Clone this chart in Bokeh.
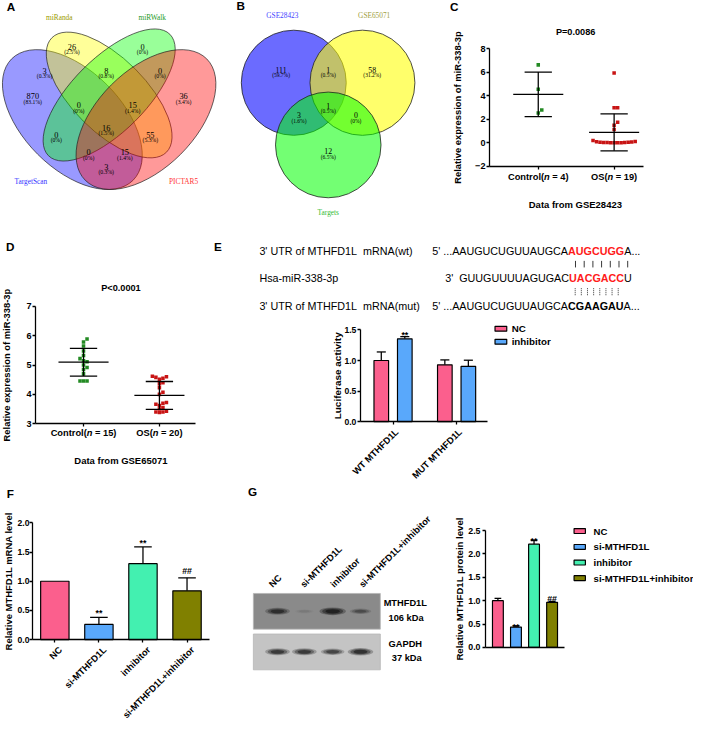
import math
import numpy as np
from bokeh.plotting import figure
from bokeh.models import Range1d, LinearAxis, FixedTicker, NumeralTickFormatter
from bokeh.layouts import row, column
from bokeh.embed import file_html
from bokeh.resources import INLINE
from bokeh.core.properties import value

# ======================= DATA =======================
# A: four-set Venn diagram of predicted targets (region counts)
venn4_sets = ["miRanda", "miRWalk", "TargetScan", "PICTAR5"]
venn4_counts = [26, 0, 3, 8, 0, 870, 0, 15, 36, 0, 16, 55, 0, 15, 3]
# B: three-set Venn diagram
venn3_sets = ["GSE28423", "GSE65071", "Targets"]
venn3_counts = [111, 1, 58, 1, 3, 0, 12]

# C: GSE28423 expression
c_groups = ["Control", "OS"]
c_control = [6.63, 4.55, 2.78, 2.53]
c_os = [5.94, 2.98, 2.98, 1.75, 1.50, 1.13, 0.20, 0.10, 0.08, 0.06, 0.05,
        0.04, 0.03, 0.02, 0.02, 0.01, 0.00, 0.00, 0.00]
c_pvalue = "P=0.0086"
c_dataset = "Data from GSE28423"

# D: GSE65071 expression
d_groups = ["Control", "OS"]
d_control = [5.89, 5.79, 5.65, 5.48, 5.33, 5.22, 5.15, 5.11, 5.00, 4.92,
             4.85, 4.70, 4.46, 4.46, 4.46]
d_os = [4.62, 4.60, 4.58, 4.55, 4.52, 4.40, 4.36, 4.23, 4.07, 4.00,
        3.72, 3.70, 3.66, 3.62, 3.55, 3.50, 3.42, 3.40, 3.38, 3.40]
d_pvalue = "P<0.0001"
d_dataset = "Data from GSE65071"
expr_ylabel = "Relative expression of miR-338-3p"

# E: luciferase assay
e_groups = ["WT MTHFD1L", "MUT MTHFD1L"]
e_series = ["NC", "inhibitor"]
e_nc_mean = [1.00, 0.93]
e_nc_sd = [0.14, 0.08]
e_inh_mean = [1.355, 0.905]
e_inh_sd = [0.035, 0.10]
e_inh_marks = ["**", ""]
e_ylabel = "Luciferase activity"
seq_labels = ["3' UTR of MTHFD1L\u00a0 mRNA(wt)", "Hsa-miR-338-3p",
              "3' UTR of MTHFD1L\u00a0 mRNA(mut)"]
seq_wt = ["5' ...AAUGUCUGUUAUGCA", "AUGCUGG", "A..."]
seq_mir = ["3'\u00a0 GUUGUUUUAGUGAC", "UACGACC", "U"]
seq_mut = ["5' ...AAUGUCUGUUAUGCA", "CGAAGAU", "A..."]

# F: qPCR
treat_groups = ["NC", "si-MTHFD1L", "inhibitor", "si-MTHFD1L+inhibitor"]
f_mean = [1.00, 0.26, 1.30, 0.835]
f_sd = [0.00, 0.12, 0.287, 0.223]
f_marks = ["", "**", "**", "##"]
f_ylabel = "Relative MTHFD1L mRNA level"

# G: western blot quantification
g_mean = [1.00, 0.435, 2.21, 0.965]
g_sd = [0.05, 0.025, 0.08, 0.02]
g_marks = ["", "**", "**", "##"]
g_ylabel = "Relative MTHFD1L protein level"
blot_rows = ["MTHFD1L", "GAPDH"]
blot_kda = ["106 kDa", "37 kDa"]
blot_mthfd1l = [0.80, 0.10, 1.00, 0.45]
blot_gapdh = [0.80, 0.80, 0.70, 0.90]

# ======================= STYLE =======================
S = 693.0 / 709.0
SANS = "Liberation Sans"
SERIF = "Liberation Serif"
TREAT_COLORS = ["#fb5f8d", "#59a8fb", "#43f0b0", "#808000"]
GREEN_PT = "#238a23"
RED_PT = "#c81414"
SEQ_RED = "#ff1a1a"


def fs(px):
    return "%.2fpx" % (px * S)


AR = {' ': 278, '\u00a0': 278, "'": 191, '(': 333, ')': 333, '-': 333, '.': 278,
      'A': 667, 'C': 722, 'G': 778, 'U': 722}
AB = {' ': 278, '\u00a0': 278, "'": 238, '(': 333, ')': 333, '-': 333, '.': 278, '=': 584,
      'A': 722, 'C': 722, 'G': 778, 'U': 722, 'O': 778, 'S': 667,
      'o': 611, 'n': 611, 't': 333, 'r': 389, 'l': 278}


def tw(s, size, bold=False):
    tbl = AB if bold else AR
    return sum(tbl.get(ch, 556) for ch in s) * size / 1000.0


class Panel:
    def __init__(self, rect, xmap=(0.0, 0.0, 1.0, 1.0), ymap=(0.0, 0.0, 1.0, -1.0)):
        self.x0, self.y0, self.x1, self.y1 = rect
        p1, v1, p2, v2 = xmap
        self.kx = (v2 - v1) / (p2 - p1)
        self.bx = v1 - p1 * self.kx
        p1, v1, p2, v2 = ymap
        self.ky = (v2 - v1) / (p2 - p1)
        self.by = v1 - p1 * self.ky
        w = int(round(self.x1 * S)) - int(round(self.x0 * S))
        h = int(round(self.y1 * S)) - int(round(self.y0 * S))
        p = figure(width=w, height=h,
                   x_range=Range1d(self.X(self.x0), self.X(self.x1)),
                   y_range=Range1d(self.Y(self.y1), self.Y(self.y0)),
                   x_axis_type=None, y_axis_type=None,
                   output_backend="svg", toolbar_location=None)
        p.min_border_left = 0
        p.min_border_right = 0
        p.min_border_top = 0
        p.min_border_bottom = 0
        p.outline_line_color = None
        p.background_fill_color = "white"
        p.border_fill_color = "white"
        self.p = p

    def X(self, px):
        return self.bx + self.kx * px

    def Y(self, py):
        return self.by + self.ky * py

    def W(self, w):
        return abs(self.kx) * w

    def H(self, h):
        return abs(self.ky) * h

    def text(self, xs, ys, texts, size, color="black", bold=False, italic=False,
             font=SANS, align="center", baseline="middle", angle=0.0, px=True, y_offset=0.0):
        if px:
            xs = [self.X(v) for v in xs]
            ys = [self.Y(v) for v in ys]
        if bold and italic:
            style = "bold italic"
        elif bold:
            style = "bold"
        elif italic:
            style = "italic"
        else:
            style = "normal"
        self.p.text(x=list(xs), y=list(ys), text=list(texts), text_font=value(font),
                    text_font_size=value(fs(size)), text_font_style=style,
                    text_color=color, text_align=align, text_baseline=baseline,
                    angle=angle, y_offset=y_offset * S)


def style_axis(ax, tick_out=3.5, label_standoff=1):
    ax.axis_line_color = "black"
    ax.axis_line_width = 1.3 * S
    ax.major_tick_line_color = "black"
    ax.major_tick_line_width = 1.3 * S
    ax.major_tick_out = int(round(tick_out * S))
    ax.major_tick_in = 0
    ax.minor_tick_out = 0
    ax.minor_tick_in = 0
    ax.major_label_text_font = SANS
    ax.major_label_text_font_style = "bold"
    ax.major_label_text_color = "black"
    ax.major_label_standoff = label_standoff


def add_yaxis(pan, x_px, lo, hi, ticks, label, tick_size, label_size, label_pos,
              fmt=None, label_standoff=1):
    ax = LinearAxis(fixed_location=pan.X(x_px), bounds=(lo, hi),
                    ticker=FixedTicker(ticks=ticks))
    if fmt:
        ax.formatter = NumeralTickFormatter(format=fmt)
    style_axis(ax, label_standoff=label_standoff)
    ax.major_label_text_font_size = fs(tick_size)
    pan.p.add_layout(ax, "left")
    # axis title, drawn as rotated text centred on the axis span
    pan.text([label_pos], [(lo + hi) / 2.0], [label], label_size, bold=True,
             angle=math.pi / 2, px=False) if False else None
    yc = (lo + hi) / 2.0
    pan.p.text(x=[pan.X(label_pos)], y=[yc], text=[label], text_font=value(SANS),
               text_font_size=value(fs(label_size)), text_font_style="bold",
               text_color="black", text_align="center", text_baseline="middle",
               angle=math.pi / 2)


def add_xaxis(pan, y_val, x_lo_px, x_hi_px, ticks, tick_out=3.5):
    ax = LinearAxis(fixed_location=y_val, bounds=(pan.X(x_lo_px), pan.X(x_hi_px)),
                    ticker=FixedTicker(ticks=ticks))
    style_axis(ax, tick_out)
    ax.major_label_text_color = None
    pan.p.add_layout(ax, "below")


def swarm(vals, ppu_y, ppu_x, d=3.6):
    vals = np.asarray(vals, dtype=float)
    order = np.argsort(vals, kind="stable")
    cands = [0.0]
    for k in range(1, 40):
        cands += [k * d, -k * d]
    placed = []
    off = np.zeros(len(vals))
    for i in order:
        y = vals[i] * ppu_y
        for c in cands:
            if all((c - a) ** 2 + (y - b) ** 2 >= (0.97 * d) ** 2 for a, b in placed):
                break
        placed.append((c, y))
        off[i] = c / ppu_x
    return off


def pct(c, total):
    return "(0%)" if c == 0 else "(%.1f%%)" % (100.0 * c / total)


# ======================= PANEL A =======================
A = Panel((0, 0, 238, 240))
A.text([10.8], [6.5], ["A"], 12, bold=True)
# ellipse layout (px): centre, semi axes, angle, fill; order TargetScan, miRanda, miRWalk, PICTAR5
ell4 = [(73.4, 121.6, 87.7, 50.1, 135, "#0000ff"),
        (111.0, 96.5, 82.7, 37.6, 135, "#ffff00"),
        (111.0, 96.5, 87.7, 37.6, 45, "#00ff00"),
        (148.6, 121.6, 87.7, 50.1, 45, "#ff0000")]
for cx, cy, a, b, ang, col in ell4:
    A.p.ellipse(x=[A.X(cx)], y=[A.Y(cy)], width=[A.W(2 * a)], height=[A.H(2 * b)],
                angle=[math.radians(ang)], fill_color=col, fill_alpha=0.4,
                line_color="#222222", line_width=0.7)
venn4_pos = [(73, 47), (145, 47), (45, 72), (108, 72), (163, 72), (33, 98), (80, 107),
             (135, 107), (187, 98), (57, 137), (108, 130), (153, 137), (90, 155),
             (127, 155), (108, 170)]
tot4 = sum(venn4_counts)
A.text([p[0] for p in venn4_pos], [p[1] for p in venn4_pos],
       [str(c) for c in venn4_counts], 8.5, font=SERIF)
A.text([p[0] for p in venn4_pos], [p[1] + 5.6 for p in venn4_pos],
       [pct(c, tot4) for c in venn4_counts], 5.8, font=SERIF)
venn4_lab_pos = [(60, 17), (155, 17), (31, 185), (187, 185)]
venn4_lab_col = ["#9a9a00", "#1f9a1f", "#3333ff", "#ff3333"]
for (lx, ly), name, col in zip(venn4_lab_pos, venn4_sets, venn4_lab_col):
    A.text([lx], [ly], [name], 7.5, color=col, font=SERIF)

# ======================= PANEL B =======================
B = Panel((238, 0, 455, 240))
B.text([245.5], [5.5], ["B"], 12, bold=True)
circ3 = [(299.7, 84.0, 53.7, "#0000ff", 0.58),
         (370.0, 84.0, 53.7, "#ffff00", 0.58),
         (335.0, 147.5, 54.0, "#00ff00", 0.55)]
for cx, cy, r, col, al in circ3:
    B.p.ellipse(x=[B.X(cx)], y=[B.Y(cy)], width=[B.W(2 * r)], height=[B.H(2 * r)],
                fill_color=col, fill_alpha=al, line_color="#222222", line_width=0.8)
venn3_pos = [(286.7, 70.7), (335, 70.7), (380, 70.7), (335, 107.3), (305, 117.3),
             (363.3, 117.3), (335, 154)]
tot3 = sum(venn3_counts)
B.text([p[0] for p in venn3_pos], [p[1] for p in venn3_pos],
       [str(c) for c in venn3_counts], 8.0, font=SERIF)
B.text([p[0] for p in venn3_pos], [p[1] + 5.5 for p in venn3_pos],
       [pct(c, tot3) for c in venn3_counts], 5.6, font=SERIF)
venn3_lab_pos = [(288, 15), (382, 15), (335, 217)]
venn3_lab_col = ["#4444ff", "#a0a040", "#33bb33"]
for (lx, ly), name, col in zip(venn3_lab_pos, venn3_sets, venn3_lab_col):
    B.text([lx], [ly], [name], 7.5, color=col, font=SERIF)


# ======================= SCATTER PANELS (C, D) =======================
def scatter_panel(pan, groups, series, cols, x_axis_px, x_end_px, y_lo, y_hi, yticks,
                  ppu_x, ppu_y, letter, letter_pos, ptitle, ptitle_pos, dataset, dataset_pos,
                  xlab_dy, ylabel_x):
    pan.text([letter_pos[0]], [letter_pos[1]], [letter], 12, bold=True)
    for i, (vals, col) in enumerate(zip(series, cols)):
        xc = i + 1
        off = swarm(vals, ppu_y, ppu_x)
        pan.p.scatter(x=list(xc + off), y=list(vals), marker="square", size=3.6 * S,
                      fill_color=col, line_color=None)
        m = float(np.mean(vals))
        sd = float(np.std(vals, ddof=1))
        pan.p.segment(x0=[xc - 0.33, xc - 0.18, xc - 0.18, xc],
                      y0=[m, m + sd, m - sd, m - sd],
                      x1=[xc + 0.33, xc + 0.18, xc + 0.18, xc],
                      y1=[m, m + sd, m - sd, m + sd],
                      line_color="black", line_width=1.3 * S)
        # tick label with italic n
        a_s = groups[i] + "("
        n_s = "n"
        b_s = "\u00a0= %d)" % len(vals)
        size = 9.5
        wa, wn, wb = tw(a_s, size, True), tw(n_s, size, True), tw(b_s, size, True)
        tick_px = (xc - pan.bx) / pan.kx
        ypx = (y_lo - pan.by) / pan.ky + xlab_dy
        x0 = tick_px - (wa + wn + wb) / 2.0
        pan.text([x0], [ypx], [a_s], size, bold=True, align="left")
        pan.text([x0 + wa], [ypx], [n_s], size, bold=True, italic=True, align="left")
        pan.text([x0 + wa + wn], [ypx], [b_s], size, bold=True, align="left")
    add_xaxis(pan, y_lo, x_axis_px, x_end_px, [1, 2])
    add_yaxis(pan, x_axis_px, y_lo, y_hi, yticks, expr_ylabel, 9.3, 9.6, ylabel_x)
    pan.text([ptitle_pos[0]], [ptitle_pos[1]], [ptitle], 9.4, bold=True)
    pan.text([dataset_pos[0]], [dataset_pos[1]], [dataset], 9.7, bold=True)


C = Panel((455, 0, 709, 240), xmap=(550, 1, 627.7, 2), ymap=(169.3, -2, 49.3, 8))
scatter_panel(C, c_groups, [c_control, c_os], [GREEN_PT, RED_PT], 500, 658.3, -2, 8,
              [-2, 0, 2, 4, 6, 8], 77.7, 12.0, "C", (464, 6), c_pvalue, (588.3, 31.7),
              c_dataset, (588, 208), 10.7, 468.3)

D = Panel((0, 240, 215, 495), xmap=(85, 1, 162.7, 2), ymap=(432.7, 3, 312.7, 7))
scatter_panel(D, d_groups, [d_control, d_os], [GREEN_PT, RED_PT], 36, 200, 3, 7,
              [3, 4, 5, 6, 7], 77.7, 30.0, "D", (10, 251), d_pvalue, (123.3, 294),
              d_dataset, (123.3, 470), 10.0, 6.5)


# ======================= BAR HELPERS =======================
def bars(pan, xs, means, sds, color, width):
    cap = 0.62 * width
    x0, y0, x1, y1 = [], [], [], []
    for x, m, s in zip(xs, means, sds):
        if s > 0:
            x0 += [x, x - cap / 2]
            x1 += [x, x + cap / 2]
            y0 += [m, m + s]
            y1 += [m + s, m + s]
    if x0:
        pan.p.segment(x0=x0, y0=y0, x1=x1, y1=y1, line_color="black", line_width=1.3 * S)
    pan.p.vbar(x=list(xs), top=list(means), bottom=0, width=width, fill_color=color,
               line_color="black", line_width=1.2 * S)


def marks(pan, xs, means, sds, labels, star_gap, hash_gap, size=9.0):
    for x, m, s, lab in zip(xs, means, sds, labels):
        if not lab:
            continue
        if lab.startswith("*"):
            off = -(star_gap - 0.43 * size)
        else:
            off = -hash_gap
        pan.text([x], [m + s], [lab], size, bold=True, baseline="alphabetic",
                 px=False, y_offset=off)


def rot_labels(pan, xs, y_axis_val, labels, size=9.5, dx=4.0, dy=9.0):
    for x, lab in zip(xs, labels):
        pan.text([x + pan.W(dx)], [y_axis_val - pan.H(dy)], [lab], size, bold=True,
                 align="right", baseline="middle", angle=math.pi / 4, px=False)


# ======================= PANEL E =======================
E = Panel((215, 240, 709, 495), xmap=(401.7, 1, 466.7, 2), ymap=(430.7, 0, 336.7, 1.5))
E.text([222.5], [251], ["E"], 12, bold=True)
SEQ = 11.0
line_y = [256.0, 283.3, 311.7]
E.text([265, 265, 265], line_y, seq_labels, SEQ, align="left")
for (pre, hi, post), y, x0, hcol in zip([seq_wt, seq_mir, seq_mut], line_y,
                                       [441.7, 455.0, 441.7], [SEQ_RED, SEQ_RED, "black"]):
    w1 = tw(pre, SEQ)
    w2 = tw(hi, SEQ, True)
    E.text([x0], [y], [pre], SEQ, align="left")
    E.text([x0 + w1], [y], [hi], SEQ, bold=True, color=hcol, align="left")
    E.text([x0 + w1 + w2], [y], [post], SEQ, align="left")
# base-pairing marks
bx1 = np.linspace(588.3, 641.7, 7)
E.p.segment(x0=[E.X(v) for v in bx1], x1=[E.X(v) for v in bx1],
            y0=[E.Y(266.0)] * 7, y1=[E.Y(272.7)] * 7, line_color="#333333", line_width=1.0 * S)
bx2 = np.linspace(588.0, 632.0, 8)
E.p.segment(x0=[E.X(v) for v in bx2], x1=[E.X(v) for v in bx2],
            y0=[E.Y(294.0)] * 8, y1=[E.Y(301.7)] * 8, line_color="#333333",
            line_width=1.0 * S, line_dash="1 1")
EW = 0.23
e_x = np.arange(1, len(e_groups) + 1, dtype=float)
bars(E, e_x - 0.185, e_nc_mean, e_nc_sd, TREAT_COLORS[0], EW)
bars(E, e_x + 0.185, e_inh_mean, e_inh_sd, TREAT_COLORS[1], EW)
marks(E, e_x + 0.185, e_inh_mean, e_inh_sd, e_inh_marks, 6.0, 5.0)
add_xaxis(E, 0.0, 368.3, 498.3, list(e_x), tick_out=3.3)
add_yaxis(E, 368.3, 0.0, 1.5, [0.0, 0.5, 1.0, 1.5], e_ylabel, 8.8, 10.2, 345.0, fmt="0.0")
rot_labels(E, e_x, 0.0, e_groups, size=9.5)
# legend
for j, (name, col) in enumerate(zip(e_series, TREAT_COLORS[:2])):
    yc = [335.5, 348.8][j]
    E.p.quad(left=[E.X(506)], right=[E.X(518)], top=[E.Y(yc - 2.5)], bottom=[E.Y(yc + 2.5)],
             fill_color=col, line_color="black", line_width=1.2 * S)
    E.text([523], [yc], [name], 10.0, bold=True, align="left")

# ======================= PANEL F =======================
F = Panel((0, 495, 240, 739), xmap=(55.5, 1, 100.5, 2), ymap=(654, 0, 534.3, 2))
F.text([10], [504], ["F"], 12, bold=True)
f_x = np.arange(1, len(treat_groups) + 1, dtype=float)
for i in range(len(treat_groups)):
    bars(F, [f_x[i]], [f_mean[i]], [f_sd[i]], TREAT_COLORS[i], 0.644)
marks(F, f_x, f_mean, f_sd, f_marks, 8.0, 7.0)
add_xaxis(F, 0.0, 32.7, 213.3, list(f_x), tick_out=3.3)
add_yaxis(F, 32.7, 0.0, 2.0, [0.0, 0.5, 1.0, 1.5, 2.0], f_ylabel, 8.8, 9.7, 8.0,
          fmt="0.0", label_standoff=0)
rot_labels(F, f_x, 0.0, treat_groups, size=9.5, dx=6.0, dy=9.0)

# ======================= PANEL G =======================
G = Panel((240, 495, 709, 739), xmap=(508.7, 1, 527.2, 2), ymap=(662, 0, 542.3, 2.5))
G.text([257.5], [502], ["G"], 12, bold=True)
# western blot
blot_boxes = [(606.7, 643.3, "#8a8a8a", 625.0, blot_mthfd1l),
              (648.3, 685.0, "#c4c4c4", 666.5, blot_gapdh)]
lane_px = [283.0, 310.5, 339.5, 368.0]
for top, bot, bg, yc, inten in blot_boxes:
    G.p.quad(left=[G.X(258.3)], right=[G.X(388.3)], top=[G.Y(top)], bottom=[G.Y(bot)],
             fill_color=bg, line_color="#b5b5b5", line_width=0.8 * S)
    for lx, t in zip(lane_px, inten):
        bw = 18.0 + 9.0 * t
        bh = 3.5 + 4.5 * t
        for k, al in zip([1.0, 0.8, 0.55], [0.30, 0.45, 0.65]):
            G.p.ellipse(x=[G.X(lx)], y=[G.Y(yc)], width=[G.W(bw * k)], height=[G.H(bh * k)],
                        fill_color="#111111", fill_alpha=al * t, line_color=None)
lane_anchor = [276.0, 308.3, 339.0, 368.3]
for lx, name in zip(lane_anchor, treat_groups):
    G.text([lx], [599.0], [name], 9.5, bold=True, align="left", baseline="alphabetic",
           angle=math.pi / 4)
G.text([391.7, 396.7], [616.7, 631.7], [blot_rows[0], blot_kda[0]], 9.5, bold=True, align="left")
G.text([396.7, 400.0], [658.3, 673.3], [blot_rows[1], blot_kda[1]], 9.5, bold=True, align="left")
# bar chart
g_x = np.arange(1, len(treat_groups) + 1, dtype=float)
for i in range(len(treat_groups)):
    bars(G, [g_x[i]], [g_mean[i]], [g_sd[i]], TREAT_COLORS[i], 0.6)
marks(G, g_x, g_mean, g_sd, g_marks, 3.0, 2.0)
add_xaxis(G, 0.0, 496, 576.7, [], tick_out=0)
add_yaxis(G, 496, 0.0, 2.5, [0.0, 0.5, 1.0, 1.5, 2.0, 2.5], g_ylabel, 9.0, 9.8, 469.0,
          fmt="0.0", label_standoff=2)
for j, (name, col) in enumerate(zip(treat_groups, TREAT_COLORS)):
    yc = [542.7, 559.0, 575.0, 591.0][j]
    G.p.quad(left=[G.X(586.7)], right=[G.X(598.3)], top=[G.Y(yc - 2.5)], bottom=[G.Y(yc + 2.5)],
             fill_color=col, line_color="black", line_width=1.2 * S)
    G.text([606.7], [yc], [name], 9.8, bold=True, align="left")

layout = column(row(A.p, B.p, C.p), row(D.p, E.p), row(F.p, G.p))
open("out.html", "w").write(file_html(layout, INLINE))
